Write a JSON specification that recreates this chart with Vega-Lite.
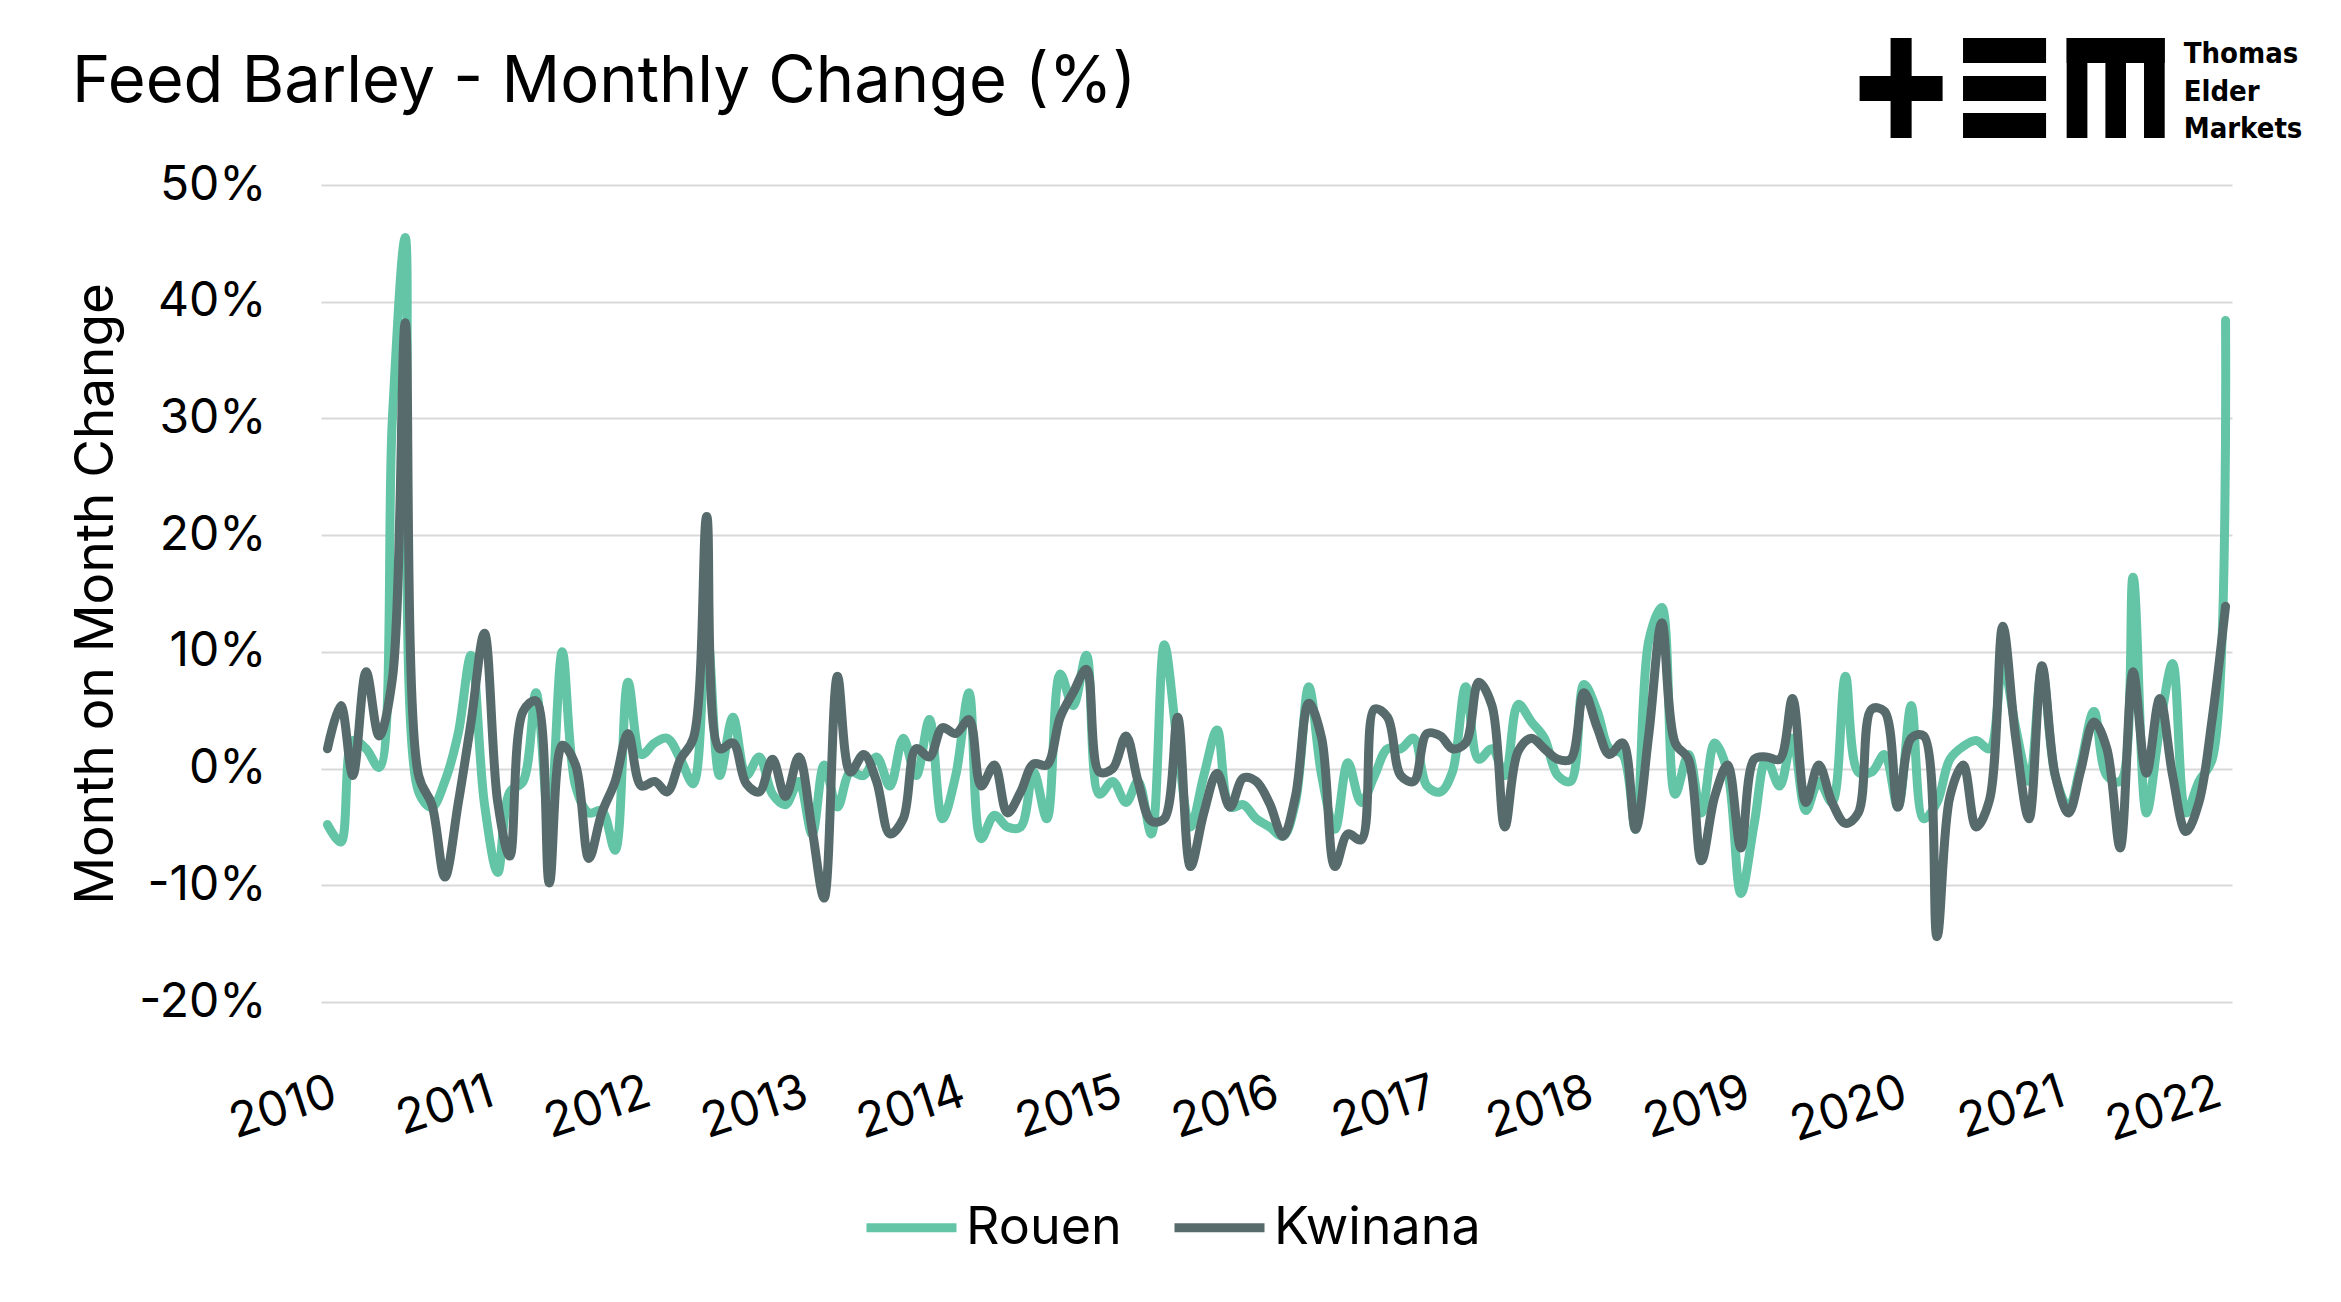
{
  "$schema": "https://vega.github.io/schema/vega-lite/v6.json",
  "width": 1911,
  "height": 817,
  "autosize": {"type": "none"},
  "padding": {"left": 321, "top": 185, "right": 109, "bottom": 300},
  "background": "white",
  "config": {"font": "Inter", "view": {"stroke": null}},
  "title": {"text": "Feed Barley - Monthly Change (%)", "anchor": "start", "frame": "group", "dx": -249, "fontSize": 65, "fontWeight": "normal", "color": "#000", "baseline": "alphabetic", "offset": -129},
  "datasets": {
    "barley": [
      {"date": "2010-01-01", "Rouen": -4.8, "Kwinana": 1.7},
      {"date": "2010-02-01", "Rouen": -6.3, "Kwinana": 5.4},
      {"date": "2010-03-01", "Rouen": 2.4, "Kwinana": -0.6},
      {"date": "2010-04-01", "Rouen": 1.7, "Kwinana": 8.3},
      {"date": "2010-05-01", "Rouen": 0.1, "Kwinana": 2.8},
      {"date": "2010-06-01", "Rouen": 30, "Kwinana": 7.7},
      {"date": "2010-07-01", "Rouen": 45.5, "Kwinana": 38.2},
      {"date": "2010-08-01", "Rouen": -2, "Kwinana": -0.6},
      {"date": "2010-09-01", "Rouen": -3.3, "Kwinana": -3.1},
      {"date": "2010-10-01", "Rouen": -1.1, "Kwinana": -9.3},
      {"date": "2010-11-01", "Rouen": 3, "Kwinana": -3},
      {"date": "2010-12-01", "Rouen": 9.7, "Kwinana": 4},
      {"date": "2011-01-01", "Rouen": -3, "Kwinana": 11.6},
      {"date": "2011-02-01", "Rouen": -8.9, "Kwinana": -2.9},
      {"date": "2011-03-01", "Rouen": -2, "Kwinana": -7.5},
      {"date": "2011-04-01", "Rouen": -1.1, "Kwinana": 4.9},
      {"date": "2011-05-01", "Rouen": 6.5, "Kwinana": 5.8},
      {"date": "2011-06-01", "Rouen": -5, "Kwinana": -9.8},
      {"date": "2011-07-01", "Rouen": 10, "Kwinana": 2},
      {"date": "2011-08-01", "Rouen": -1.5, "Kwinana": 0.3},
      {"date": "2011-09-01", "Rouen": -3.8, "Kwinana": -7.7},
      {"date": "2011-10-01", "Rouen": -3.6, "Kwinana": -3.8},
      {"date": "2011-11-01", "Rouen": -7, "Kwinana": -1.1},
      {"date": "2011-12-01", "Rouen": 7.4, "Kwinana": 3},
      {"date": "2012-01-01", "Rouen": 1.2, "Kwinana": -1.5},
      {"date": "2012-02-01", "Rouen": 2.2, "Kwinana": -1.1},
      {"date": "2012-03-01", "Rouen": 2.6, "Kwinana": -2},
      {"date": "2012-04-01", "Rouen": 0.8, "Kwinana": 0.8},
      {"date": "2012-05-01", "Rouen": -1.3, "Kwinana": 2.6},
      {"date": "2012-06-01", "Rouen": 12, "Kwinana": 21.6},
      {"date": "2012-07-01", "Rouen": -0.6, "Kwinana": 1.7},
      {"date": "2012-08-01", "Rouen": 4.4, "Kwinana": 2.2},
      {"date": "2012-09-01", "Rouen": -0.6, "Kwinana": -1.3},
      {"date": "2012-10-01", "Rouen": 1, "Kwinana": -2},
      {"date": "2012-11-01", "Rouen": -2.2, "Kwinana": 0.8},
      {"date": "2012-12-01", "Rouen": -3.1, "Kwinana": -2.4},
      {"date": "2013-01-01", "Rouen": -1.1, "Kwinana": 1},
      {"date": "2013-02-01", "Rouen": -5.6, "Kwinana": -5.2},
      {"date": "2013-03-01", "Rouen": 0.3, "Kwinana": -11.1},
      {"date": "2013-04-01", "Rouen": -3.3, "Kwinana": 7.9},
      {"date": "2013-05-01", "Rouen": -0.3, "Kwinana": -0.3},
      {"date": "2013-06-01", "Rouen": -0.6, "Kwinana": 1.2},
      {"date": "2013-07-01", "Rouen": 1, "Kwinana": -1.1},
      {"date": "2013-08-01", "Rouen": -1.5, "Kwinana": -5.6},
      {"date": "2013-09-01", "Rouen": 2.6, "Kwinana": -4.3},
      {"date": "2013-10-01", "Rouen": -0.6, "Kwinana": 1.7},
      {"date": "2013-11-01", "Rouen": 4.2, "Kwinana": 1},
      {"date": "2013-12-01", "Rouen": -4.3, "Kwinana": 3.5},
      {"date": "2014-01-01", "Rouen": -0.6, "Kwinana": 3},
      {"date": "2014-02-01", "Rouen": 6.5, "Kwinana": 4.2},
      {"date": "2014-03-01", "Rouen": -6, "Kwinana": -1.5},
      {"date": "2014-04-01", "Rouen": -4, "Kwinana": 0.3},
      {"date": "2014-05-01", "Rouen": -5, "Kwinana": -3.8},
      {"date": "2014-06-01", "Rouen": -5, "Kwinana": -2},
      {"date": "2014-07-01", "Rouen": -0.3, "Kwinana": 0.4},
      {"date": "2014-08-01", "Rouen": -4.3, "Kwinana": 0.3},
      {"date": "2014-09-01", "Rouen": 8.1, "Kwinana": 4.4},
      {"date": "2014-10-01", "Rouen": 5.4, "Kwinana": 6.5},
      {"date": "2014-11-01", "Rouen": 9.7, "Kwinana": 8.5},
      {"date": "2014-12-01", "Rouen": -2.2, "Kwinana": -0.3},
      {"date": "2015-01-01", "Rouen": -1.1, "Kwinana": 0},
      {"date": "2015-02-01", "Rouen": -2.9, "Kwinana": 2.8},
      {"date": "2015-03-01", "Rouen": -1.1, "Kwinana": -1.1},
      {"date": "2015-04-01", "Rouen": -5.6, "Kwinana": -4.5},
      {"date": "2015-05-01", "Rouen": 10.6, "Kwinana": -4.3},
      {"date": "2015-06-01", "Rouen": 2, "Kwinana": 4.4},
      {"date": "2015-07-01", "Rouen": -5, "Kwinana": -8.4},
      {"date": "2015-08-01", "Rouen": -0.6, "Kwinana": -3.8},
      {"date": "2015-09-01", "Rouen": 3.3, "Kwinana": -0.4},
      {"date": "2015-10-01", "Rouen": -3.3, "Kwinana": -3.3},
      {"date": "2015-11-01", "Rouen": -3.1, "Kwinana": -0.8},
      {"date": "2015-12-01", "Rouen": -4.3, "Kwinana": -1.1},
      {"date": "2016-01-01", "Rouen": -5, "Kwinana": -3},
      {"date": "2016-02-01", "Rouen": -5.8, "Kwinana": -5.8},
      {"date": "2016-03-01", "Rouen": -2.9, "Kwinana": -2.4},
      {"date": "2016-04-01", "Rouen": 7, "Kwinana": 5.6},
      {"date": "2016-05-01", "Rouen": -0.6, "Kwinana": 2.6},
      {"date": "2016-06-01", "Rouen": -5.2, "Kwinana": -8.4},
      {"date": "2016-07-01", "Rouen": 0.5, "Kwinana": -5.6},
      {"date": "2016-08-01", "Rouen": -2.9, "Kwinana": -6.1},
      {"date": "2016-09-01", "Rouen": -0.6, "Kwinana": 5.1},
      {"date": "2016-10-01", "Rouen": 1.7, "Kwinana": 4.4},
      {"date": "2016-11-01", "Rouen": 1.7, "Kwinana": -0.6},
      {"date": "2016-12-01", "Rouen": 2.6, "Kwinana": -1.1},
      {"date": "2017-01-01", "Rouen": -1.5, "Kwinana": 3},
      {"date": "2017-02-01", "Rouen": -2, "Kwinana": 2.8},
      {"date": "2017-03-01", "Rouen": -0.3, "Kwinana": 1.7},
      {"date": "2017-04-01", "Rouen": 7, "Kwinana": 2.2},
      {"date": "2017-05-01", "Rouen": 0.8, "Kwinana": 7.4},
      {"date": "2017-06-01", "Rouen": 1.7, "Kwinana": 5.4},
      {"date": "2017-07-01", "Rouen": -0.6, "Kwinana": -5},
      {"date": "2017-08-01", "Rouen": 5.5, "Kwinana": 1.5},
      {"date": "2017-09-01", "Rouen": 4, "Kwinana": 2.6},
      {"date": "2017-10-01", "Rouen": 2.6, "Kwinana": 1.7},
      {"date": "2017-11-01", "Rouen": -0.6, "Kwinana": 0.8},
      {"date": "2017-12-01", "Rouen": -1.1, "Kwinana": 0.8},
      {"date": "2018-01-01", "Rouen": 7.2, "Kwinana": 6.5},
      {"date": "2018-02-01", "Rouen": 4.9, "Kwinana": 3.5},
      {"date": "2018-03-01", "Rouen": 1.7, "Kwinana": 1.2},
      {"date": "2018-04-01", "Rouen": 1.2, "Kwinana": 2.2},
      {"date": "2018-05-01", "Rouen": -5.2, "Kwinana": -5.2},
      {"date": "2018-06-01", "Rouen": 11, "Kwinana": 3},
      {"date": "2018-07-01", "Rouen": 13.8, "Kwinana": 12.5},
      {"date": "2018-08-01", "Rouen": -2.2, "Kwinana": 2.2},
      {"date": "2018-09-01", "Rouen": 1.2, "Kwinana": 0.8},
      {"date": "2018-10-01", "Rouen": -3.8, "Kwinana": -7.9},
      {"date": "2018-11-01", "Rouen": 2.2, "Kwinana": -2.4},
      {"date": "2018-12-01", "Rouen": -0.3, "Kwinana": 0.3},
      {"date": "2019-01-01", "Rouen": -10.7, "Kwinana": -6.8},
      {"date": "2019-02-01", "Rouen": -4.7, "Kwinana": 0.8},
      {"date": "2019-03-01", "Rouen": 0.8, "Kwinana": 1},
      {"date": "2019-04-01", "Rouen": -1.5, "Kwinana": 0.8},
      {"date": "2019-05-01", "Rouen": 2.6, "Kwinana": 6},
      {"date": "2019-06-01", "Rouen": -3.6, "Kwinana": -2.9},
      {"date": "2019-07-01", "Rouen": -1.1, "Kwinana": 0.3},
      {"date": "2019-08-01", "Rouen": -2.9, "Kwinana": -2.9},
      {"date": "2019-09-01", "Rouen": 7.9, "Kwinana": -4.7},
      {"date": "2019-10-01", "Rouen": -0.3, "Kwinana": -3.8},
      {"date": "2019-11-01", "Rouen": -0.3, "Kwinana": 5.1},
      {"date": "2019-12-01", "Rouen": 1.2, "Kwinana": 4.9},
      {"date": "2020-01-01", "Rouen": -3.3, "Kwinana": -3.3},
      {"date": "2020-02-01", "Rouen": 5.4, "Kwinana": 2.6},
      {"date": "2020-03-01", "Rouen": -4.3, "Kwinana": 2.8},
      {"date": "2020-04-01", "Rouen": -2.9, "Kwinana": -14.4},
      {"date": "2020-05-01", "Rouen": 0.8, "Kwinana": -2.4},
      {"date": "2020-06-01", "Rouen": 1.9, "Kwinana": 0.3},
      {"date": "2020-07-01", "Rouen": 2.4, "Kwinana": -5},
      {"date": "2020-08-01", "Rouen": 1.7, "Kwinana": -2.7},
      {"date": "2020-09-01", "Rouen": 9, "Kwinana": 12.2},
      {"date": "2020-10-01", "Rouen": 3.5, "Kwinana": 2.6},
      {"date": "2020-11-01", "Rouen": -1.1, "Kwinana": -4.3},
      {"date": "2020-12-01", "Rouen": 8.5, "Kwinana": 8.8},
      {"date": "2021-01-01", "Rouen": -0.6, "Kwinana": -0.6},
      {"date": "2021-02-01", "Rouen": -3.3, "Kwinana": -3.8},
      {"date": "2021-03-01", "Rouen": 0.3, "Kwinana": -0.2},
      {"date": "2021-04-01", "Rouen": 4.9, "Kwinana": 4},
      {"date": "2021-05-01", "Rouen": -0.6, "Kwinana": 1.7},
      {"date": "2021-06-01", "Rouen": -1.1, "Kwinana": -6.8},
      {"date": "2021-07-01", "Rouen": 16.4, "Kwinana": 8.3},
      {"date": "2021-08-01", "Rouen": -3.8, "Kwinana": -0.4},
      {"date": "2021-09-01", "Rouen": 3.5, "Kwinana": 6},
      {"date": "2021-10-01", "Rouen": 9, "Kwinana": -0.6},
      {"date": "2021-11-01", "Rouen": -3.8, "Kwinana": -5.4},
      {"date": "2021-12-01", "Rouen": -1.1, "Kwinana": -2.9},
      {"date": "2022-01-01", "Rouen": 0.8, "Kwinana": 4.3},
      {"date": "2022-02-01", "Rouen": 38.4, "Kwinana": 13.9}
    ]
  },
  "layer": [
    {
      "data": {"name": "barley"},
      "mark": {"type": "line", "interpolate": "catmull-rom", "strokeWidth": 9, "strokeCap": "round", "strokeJoin": "round"},
      "encoding": {
        "x": {"field": "date", "type": "temporal", "scale": {"type": "utc", "domain": ["2009-12-17", "2022-02-16"]},
              "axis": {"title": null, "format": "%Y", "tickCount": {"interval": "year", "step": 1}, "labelAngle": -18, "labelAlign": "right", "labelBaseline": "top", "labelPadding": 66, "labelFontSize": 48, "labelColor": "#000", "grid": false, "domain": false, "ticks": false, "labelFlush": false, "labelOverlap": false, "labelBound": false}},
        "y": {"field": "Rouen", "type": "quantitative", "scale": {"domain": [-20, 50], "nice": false, "zero": false},
              "axis": {"title": "Month on Month Change", "values": [-20, -10, 0, 10, 20, 30, 40, 50], "labelExpr": "datum.value + '%'", "labelFontSize": 48, "labelColor": "#000", "labelPadding": 55, "domain": false, "ticks": false, "grid": true, "gridColor": "#D9D9D9", "gridWidth": 2, "titleFontSize": 53, "titleFontWeight": "normal", "titleColor": "#000", "titlePadding": 15}},
        "color": {"datum": "Rouen", "type": "nominal", "scale": {"domain": ["Rouen", "Kwinana"], "range": ["#63C5A6", "#586B6C"]},
                  "legend": {"title": null, "orient": "none", "legendX": 541, "legendY": 993, "direction": "horizontal", "symbolType": "stroke", "symbolSize": 8100, "symbolStrokeWidth": 9, "labelFontSize": 52, "labelColor": "#000", "labelOffset": 5, "labelLimit": 500, "columnPadding": 34, "padding": 0}}
      }
    },
    {
      "data": {"name": "barley"},
      "mark": {"type": "line", "interpolate": "catmull-rom", "strokeWidth": 9, "strokeCap": "round", "strokeJoin": "round"},
      "encoding": {
        "x": {"field": "date", "type": "temporal"},
        "y": {"field": "Kwinana", "type": "quantitative", "title": "Month on Month Change"},
        "color": {"datum": "Kwinana", "type": "nominal"}
      }
    },
    {
      "data": {"values": [{}]},
      "mark": {"type": "rect", "color": "#000"},
      "encoding": {"x": {"datum": 1576368000000, "type": "temporal"}, "x2": {"datum": 1580601600000}, "y": {"datum": 62.6, "type": "quantitative"}, "y2": {"datum": 54.03}}
    },
    {
      "data": {"values": [{}]},
      "mark": {"type": "rect", "color": "#000"},
      "encoding": {"x": {"datum": 1570147200000, "type": "temporal"}, "x2": {"datum": 1586822400000}, "y": {"datum": 59.34, "type": "quantitative"}, "y2": {"datum": 57.2}}
    },
    {
      "data": {"values": [{}]},
      "mark": {"type": "rect", "color": "#000"},
      "encoding": {"x": {"datum": 1590926400000, "type": "temporal"}, "x2": {"datum": 1607610240000}, "y": {"datum": 62.6, "type": "quantitative"}, "y2": {"datum": 60.45}}
    },
    {
      "data": {"values": [{}]},
      "mark": {"type": "rect", "color": "#000"},
      "encoding": {"x": {"datum": 1590926400000, "type": "temporal"}, "x2": {"datum": 1607610240000}, "y": {"datum": 59.34, "type": "quantitative"}, "y2": {"datum": 57.2}}
    },
    {
      "data": {"values": [{}]},
      "mark": {"type": "rect", "color": "#000"},
      "encoding": {"x": {"datum": 1590926400000, "type": "temporal"}, "x2": {"datum": 1607610240000}, "y": {"datum": 56.17, "type": "quantitative"}, "y2": {"datum": 54.03}}
    },
    {
      "data": {"values": [{}]},
      "mark": {"type": "rect", "color": "#000"},
      "encoding": {"x": {"datum": 1611748800000, "type": "temporal"}, "x2": {"datum": 1631448000000}, "y": {"datum": 62.6, "type": "quantitative"}, "y2": {"datum": 60.45}}
    },
    {
      "data": {"values": [{}]},
      "mark": {"type": "rect", "color": "#000"},
      "encoding": {"x": {"datum": 1611748800000, "type": "temporal"}, "x2": {"datum": 1615913280000}, "y": {"datum": 62.6, "type": "quantitative"}, "y2": {"datum": 54.03}}
    },
    {
      "data": {"values": [{}]},
      "mark": {"type": "rect", "color": "#000"},
      "encoding": {"x": {"datum": 1619533440000, "type": "temporal"}, "x2": {"datum": 1623672000000}, "y": {"datum": 62.6, "type": "quantitative"}, "y2": {"datum": 54.03}}
    },
    {
      "data": {"values": [{}]},
      "mark": {"type": "rect", "color": "#000"},
      "encoding": {"x": {"datum": 1627292160000, "type": "temporal"}, "x2": {"datum": 1631448000000}, "y": {"datum": 62.6, "type": "quantitative"}, "y2": {"datum": 54.03}}
    },
    {
      "data": {"values": [{}]},
      "mark": {"type": "text", "text": ["Thomas", "Elder", "Markets"], "lineHeight": 37.5, "align": "left", "baseline": "alphabetic", "font": "Liberation Sans Narrow, DejaVu Sans Condensed, sans-serif", "fontWeight": "bold", "fontSize": 29, "color": "#000"},
      "encoding": {"x": {"datum": 1635258240000, "type": "temporal"}, "y": {"datum": 60.45, "type": "quantitative"}}
    }
  ]
}
